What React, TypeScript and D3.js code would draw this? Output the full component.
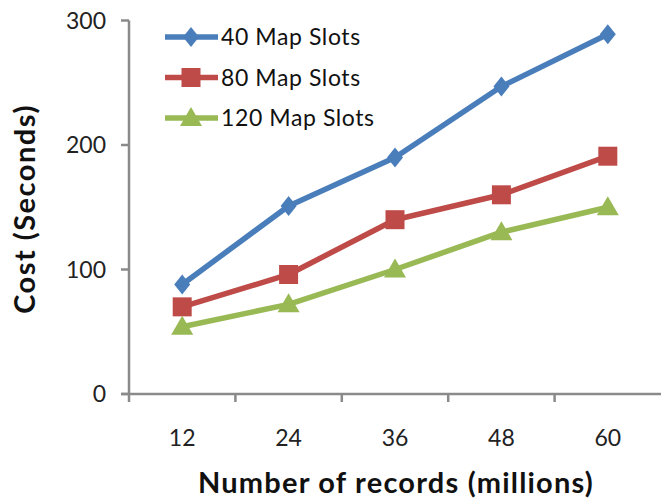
import React from "react";
import * as d3 from "d3";

const categories = ["12", "24", "36", "48", "60"];
const slots40 = [88, 151, 190, 247, 289];
const slots80 = [70, 96, 140, 160, 191];
const slots120 = [54, 72, 100, 130, 150];
const yTicks = [0, 100, 200, 300];

const seriesNames = ["40 Map Slots", "80 Map Slots", "120 Map Slots"];
const seriesValues = [slots40, slots80, slots120];
const seriesColors = ["#4a7ebb", "#be4b48", "#98b954"];
const seriesShapes = ["diamond", "square", "triangle"];

const W = 661;
const H = 499;
const FONT = "Lato, 'Open Sans', sans-serif";
const AXIS = "#8a8a8a";

function markerPath(shape: string, cx: number, cy: number): string {
  const p = d3.path();
  if (shape === "diamond") {
    p.moveTo(cx, cy - 10);
    p.lineTo(cx + 8, cy);
    p.lineTo(cx, cy + 10);
    p.lineTo(cx - 8, cy);
    p.closePath();
  } else if (shape === "square") {
    p.rect(cx - 9.5, cy - 9.5, 19, 19);
  } else {
    p.moveTo(cx, cy - 11);
    p.lineTo(cx + 11, cy + 8);
    p.lineTo(cx - 11, cy + 8);
    p.closePath();
  }
  return p.toString();
}

export default function App() {
  const x = d3.scaleBand<string>().domain(categories).range([129, 661]);
  const y = d3.scaleLinear().domain([0, 300]).range([394, 20.5]);
  const cx = (c: string) => (x(c) as number) + x.bandwidth() / 2;

  const line = d3
    .line<number>()
    .x((_, i) => cx(categories[i]))
    .y((v) => y(v));

  const bandEdges = categories.map((c) => x(c) as number);

  return (
    <svg
      width={W}
      height={H}
      style={{ position: "absolute", left: 0, top: 0, background: "#fff" }}
    >
      {/* y axis */}
      <line x1={129} x2={129} y1={y(300)} y2={y(0)} stroke={AXIS} strokeWidth={2.5} />
      {yTicks.map((t) => (
        <g key={t}>
          <line x1={121} x2={129} y1={y(t)} y2={y(t)} stroke={AXIS} strokeWidth={2.5} />
          <text
            x={106}
            y={y(t)}
            dy="0.35em"
            textAnchor="end"
            fontFamily={FONT}
            fontSize={23}
            fill="#222"
          >
            {t}
          </text>
        </g>
      ))}

      {/* x axis */}
      <line x1={121} x2={W} y1={y(0)} y2={y(0)} stroke={AXIS} strokeWidth={2.5} />
      {bandEdges.map((e, i) => (
        <line key={i} x1={e} x2={e} y1={y(0)} y2={y(0) + 8} stroke={AXIS} strokeWidth={2.5} />
      ))}
      {categories.map((c) => (
        <text
          key={c}
          x={cx(c)}
          y={446}
          textAnchor="middle"
          fontFamily={FONT}
          fontSize={23}
          fill="#222"
        >
          {c}
        </text>
      ))}

      {/* axis titles */}
      <text
        x={396}
        y={493}
        textAnchor="middle"
        fontFamily={FONT}
        fontWeight="bold"
        fontSize={29}
        letterSpacing={1.2}
        fill="#111"
      >
        Number of records (millions)
      </text>
      <text
        transform={`translate(35,209) rotate(-90)`}
        textAnchor="middle"
        fontFamily={FONT}
        fontWeight="bold"
        fontSize={29}
        letterSpacing={1.5}
        fill="#111"
      >
        Cost (Seconds)
      </text>

      {/* series */}
      {seriesValues.map((vals, s) => (
        <g key={seriesNames[s]}>
          <path
            d={line(vals) as string}
            fill="none"
            stroke={seriesColors[s]}
            strokeWidth={5.5}
            strokeLinejoin="round"
          />
          {vals.map((v, i) => (
            <path
              key={i}
              d={markerPath(seriesShapes[s], cx(categories[i]), y(v))}
              fill={seriesColors[s]}
            />
          ))}
        </g>
      ))}

      {/* legend */}
      {seriesNames.map((name, s) => {
        const ly = 37 + s * 40.5;
        return (
          <g key={name}>
            <line x1={165} x2={218} y1={ly} y2={ly} stroke={seriesColors[s]} strokeWidth={5.5} />
            <path d={markerPath(seriesShapes[s], 191, ly)} fill={seriesColors[s]} />
            <text
              x={221}
              y={ly}
              dy="0.35em"
              fontFamily={FONT}
              fontSize={23}
              letterSpacing={0.6}
              fill="#111"
            >
              {name}
            </text>
          </g>
        );
      })}
    </svg>
  );
}
